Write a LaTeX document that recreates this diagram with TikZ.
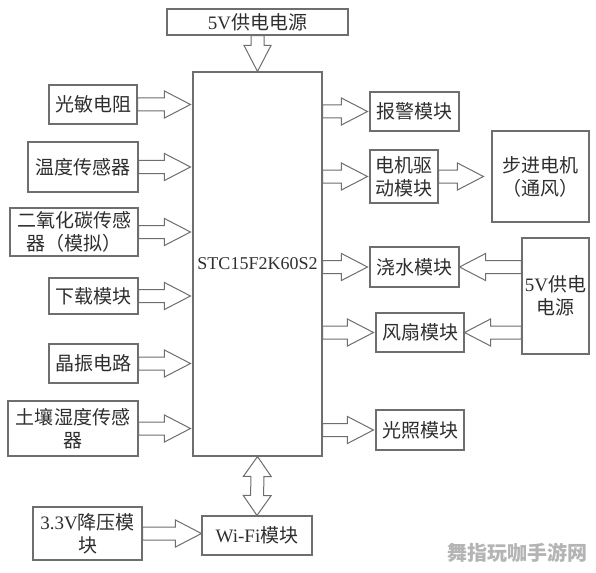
\documentclass[tikz,border=0pt]{standalone}
\usepackage{fontspec}
\setmainfont{Noto Sans CJK SC}
\newfontfamily\lat{Liberation Serif}
\usetikzlibrary{calc}
\definecolor{ln}{HTML}{6E6E6E}
\definecolor{tx}{HTML}{2E2E2E}
\definecolor{wmk}{HTML}{B4B4B4}
\tikzset{
  box/.style={draw=ln, line width=1.1pt, fill=white, inner sep=0pt, align=center, text=tx,
    font=\fontsize{19}{23}\selectfont},
  arr/.style={draw=ln, line width=1pt, fill=white, line join=miter}
}
% single block arrow from #1 to #2
\newcommand{\barrow}[2]{%
  \coordinate (bs) at #1; \coordinate (be) at #2;
  \coordinate (bh) at ($(be)!26pt!(bs)$);
  \draw[arr] ($(bs)!6.5pt!90:(be)$) -- ($(bh)!6.5pt!-90:(bs)$) -- ($(bh)!13.5pt!-90:(bs)$)
    -- (be) -- ($(bh)!13.5pt!90:(bs)$) -- ($(bh)!6.5pt!90:(bs)$) -- ($(bs)!6.5pt!-90:(be)$) -- cycle;
}
% double block arrow between #1 and #2
\newcommand{\dbarrow}[2]{%
  \coordinate (bs) at #1; \coordinate (be) at #2;
  \coordinate (bh) at ($(be)!20pt!(bs)$);
  \coordinate (bg) at ($(bs)!20pt!(be)$);
  \draw[arr] (bs) -- ($(bg)!14pt!90:(be)$) -- ($(bg)!6.5pt!90:(be)$) -- ($(bh)!6.5pt!-90:(bs)$)
    -- ($(bh)!14pt!-90:(bs)$) -- (be) -- ($(bh)!14pt!90:(bs)$) -- ($(bh)!6.5pt!90:(bs)$)
    -- ($(bg)!6.5pt!-90:(be)$) -- ($(bg)!14pt!-90:(be)$) -- cycle;
}
\begin{document}
\begin{tikzpicture}[x=1pt,y=-1pt]
\fill[white] (0,0) rectangle (596,572);
\useasboundingbox (0,0) rectangle (596,572);

% nodes
\node[box, minimum width=181pt, minimum height=26pt] (top) at (257.5,22) {{\lat 5V}供电电源};
\node[box, minimum width=129pt, minimum height=384pt, font=\lat\fontsize{18}{22}\selectfont] (main) at (257.5,264) {STC15F2K60S2};

\node[box, minimum width=88pt, minimum height=39pt] (gm) at (93,104.5) {光敏电阻};
\node[box, minimum width=110pt, minimum height=50pt] (wd) at (83,167) {温度传感器};
\node[box, minimum width=128pt, minimum height=48pt] (co) at (74,232) {二氧化碳传感\\器（模拟）};
\node[box, minimum width=89pt, minimum height=36pt] (xz) at (93.5,296) {下载模块};
\node[box, minimum width=89pt, minimum height=39pt] (jz) at (93.5,363.5) {晶振电路};
\node[box, minimum width=130pt, minimum height=55pt] (tr) at (73,428.5) {土壤湿度传感\\器};
\node[box, minimum width=109pt, minimum height=53pt] (v33) at (87.5,533.5) {{\lat 3.3V}降压模\\块};
\node[box, minimum width=110pt, minimum height=39pt] (wifi) at (257,535.5) {{\lat Wi-Fi}模块};

\node[box, minimum width=89pt, minimum height=39pt] (bj) at (414.5,111.5) {报警模块};
\node[box, minimum width=68pt, minimum height=53pt] (dj) at (404,176.5) {电机驱\\动模块};
\node[box, minimum width=97pt, minimum height=91pt] (bd) at (540.5,176.5) {步进电机\\（通风）};
\node[box, minimum width=89pt, minimum height=40pt] (js) at (414.5,267) {浇水模块};
\node[box, minimum width=67pt, minimum height=116pt] (vr) at (555.5,296) {{\lat 5V}供电\\电源};
\node[box, minimum width=88pt, minimum height=39pt] (fs) at (420,332.5) {风扇模块};
\node[box, minimum width=88pt, minimum height=40pt] (gz) at (420,430) {光照模块};

% arrows
\barrow{(top.south)}{(main.north)}
\barrow{(gm.east)}{($(main.west |- gm.east)+(-2pt,0pt)$)}
\barrow{(wd.east)}{($(main.west |- wd.east)+(-2pt,0pt)$)}
\barrow{(co.east)}{($(main.west |- co.east)+(-2pt,0pt)$)}
\barrow{(xz.east)}{($(main.west |- xz.east)+(-2pt,0pt)$)}
\barrow{(jz.east)}{($(main.west |- jz.east)+(-2pt,0pt)$)}
\barrow{(tr.east)}{($(main.west |- tr.east)+(-2pt,0pt)$)}

\barrow{(main.east |- bj.west)}{($(bj.west)+(-2pt,0pt)$)}
\barrow{(main.east |- dj.west)}{($(dj.west)+(-2pt,0pt)$)}
\barrow{(main.east |- js.west)}{($(js.west)+(-2pt,0pt)$)}
\barrow{(main.east |- fs.west)}{($(fs.west)+(-2pt,0pt)$)}
\barrow{(main.east |- gz.west)}{($(gz.west)+(-2pt,0pt)$)}

\barrow{(dj.east)}{($(bd.west |- dj.east)+(-8pt,0pt)$)}
\barrow{(vr.west |- js.east)}{(js.east)}
\barrow{(vr.west |- fs.east)}{(fs.east)}

\barrow{(v33.east)}{(wifi.west |- v33.east)}
\dbarrow{(main.south)}{(wifi.north)}

% watermark
\node[text=wmk, font=\bfseries\fontsize{20}{24}\selectfont, inner sep=0pt] (wm) at (517,553) {舞指玩咖手游网};
\end{tikzpicture}
\end{document}
